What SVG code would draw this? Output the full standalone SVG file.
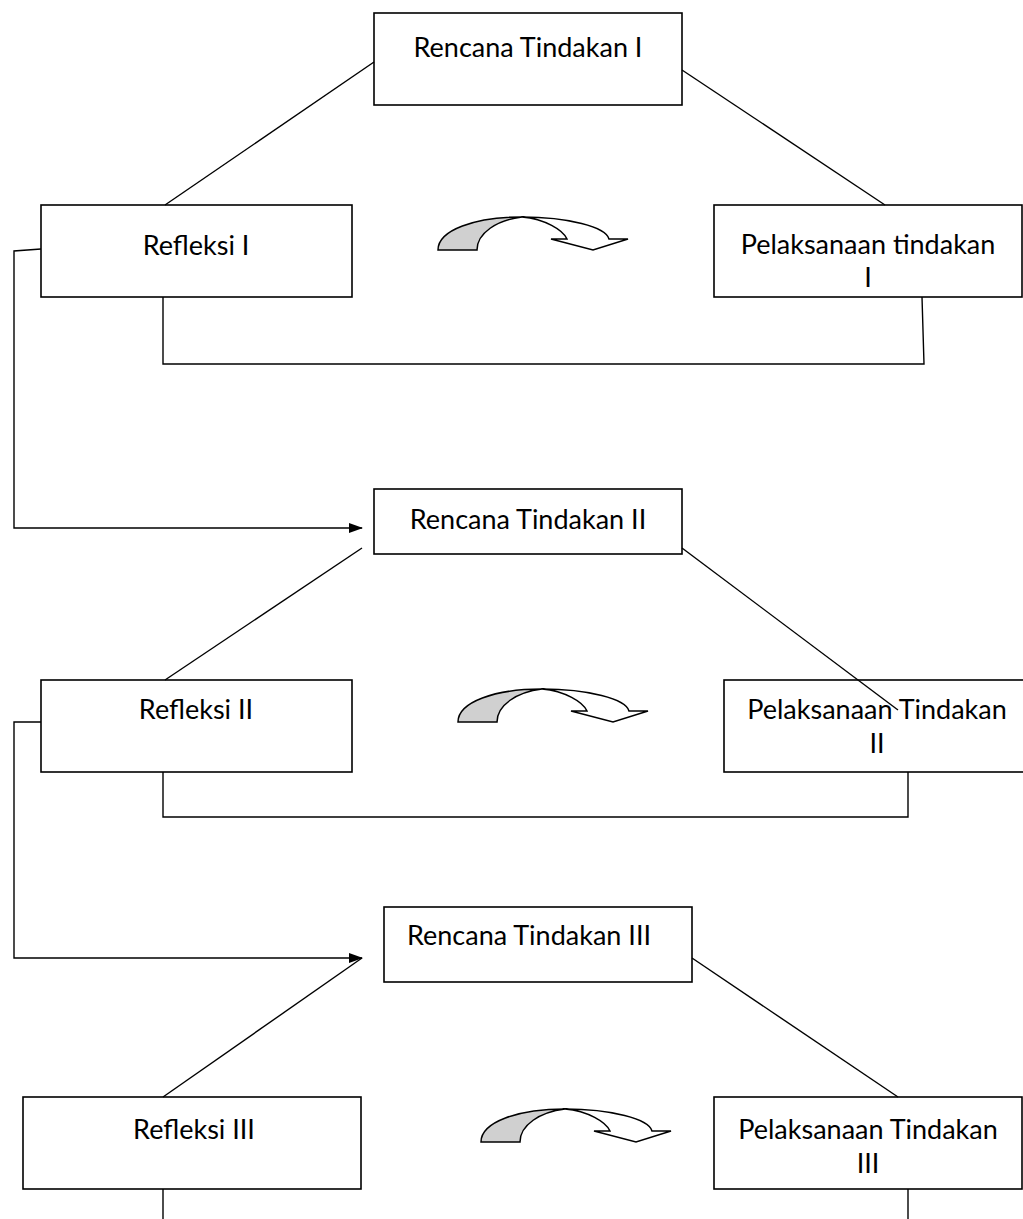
<svg xmlns="http://www.w3.org/2000/svg" xmlns:xlink="http://www.w3.org/1999/xlink" width="1023" height="1219" viewBox="0 0 1023 1219">
<style>
.box{fill:#fff;stroke:#000;stroke-width:1.6}
.ln{fill:none;stroke:#000;stroke-width:1.4}
.cv{stroke:#000;stroke-width:1.5;stroke-linejoin:miter}
text{font-family:Lato,"Liberation Sans",sans-serif;font-size:27px;fill:#000}
.m{text-anchor:middle}
</style>
<defs>
<marker id="ah" markerWidth="14" markerHeight="10" refX="13" refY="5" orient="auto" markerUnits="userSpaceOnUse"><path d="M0,0 L14,5 L0,10 Z" fill="#000"/></marker>
<g id="curv">
<path class="cv" fill="#d0d0d0" d="M438,250 C438,230 475,217 522,217 C497,220 477,233 477,250 Z"/>
<path class="cv" fill="#fff" d="M522,217 C568,217 606,227 609,239 L628,239 L593,250 L551,239 L567,239 C563,230 545,219 522,217 Z"/>
</g>
</defs>
<rect width="1023" height="1219" fill="#fff"/>
<g id="r1"><rect class="box" x="374" y="13" width="308" height="92"/><text class="m" x="528" y="57">Rencana Tindakan I</text></g>
<g id="f1"><rect class="box" x="41" y="205" width="311" height="92"/><text class="m" x="196" y="255">Refleksi I</text></g>
<g id="p1"><rect class="box" x="714" y="205" width="308" height="92"/><text class="m" x="868" y="254">Pelaksanaan tindakan</text><text class="m" x="868" y="287">I</text></g>
<g id="r2"><rect class="box" x="374" y="489" width="308" height="65"/><text class="m" x="528" y="529">Rencana Tindakan II</text></g>
<g id="f2"><rect class="box" x="41" y="680" width="311" height="92"/><text class="m" x="196" y="719">Refleksi II</text></g>
<g id="p2"><rect class="box" x="724" y="680" width="320" height="92"/><text class="m" x="877" y="719">Pelaksanaan Tindakan</text><text class="m" x="877" y="753">II</text></g>
<g id="r3"><rect class="box" x="384" y="907" width="308" height="75"/><text x="407" y="945">Rencana Tindakan III</text></g>
<g id="f3"><rect class="box" x="23" y="1097" width="338" height="92"/><text class="m" x="194" y="1139">Refleksi III</text></g>
<g id="p3"><rect class="box" x="714" y="1097" width="308" height="92"/><text class="m" x="868" y="1139">Pelaksanaan Tindakan</text><text class="m" x="868" y="1173">III</text></g>
<g id="cycle-arrows">
<use xlink:href="#curv"/>
<use xlink:href="#curv" transform="translate(20,472)"/>
<use xlink:href="#curv" transform="translate(43,892)"/>
</g>
<g id="connectors">
<path class="ln" d="M374,62 L165,205"/>
<path class="ln" d="M682,70 L885,205"/>
<path class="ln" d="M163,297 V364 H924 L922,297"/>
<path class="ln" d="M41,249 L14,251 V528 H362" marker-end="url(#ah)"/>
<path class="ln" d="M362,548 L165,680"/>
<path class="ln" d="M682,548 L898,710"/>
<path class="ln" d="M163,772 V817 H908 V772"/>
<path class="ln" d="M41,722 H14 V958 H362" marker-end="url(#ah)"/>
<path class="ln" d="M362,958 L163,1097"/>
<path class="ln" d="M692,958 L898,1097"/>
<path class="ln" d="M163,1189 V1219"/>
<path class="ln" d="M908,1189 V1219"/>
</g>
</svg>
